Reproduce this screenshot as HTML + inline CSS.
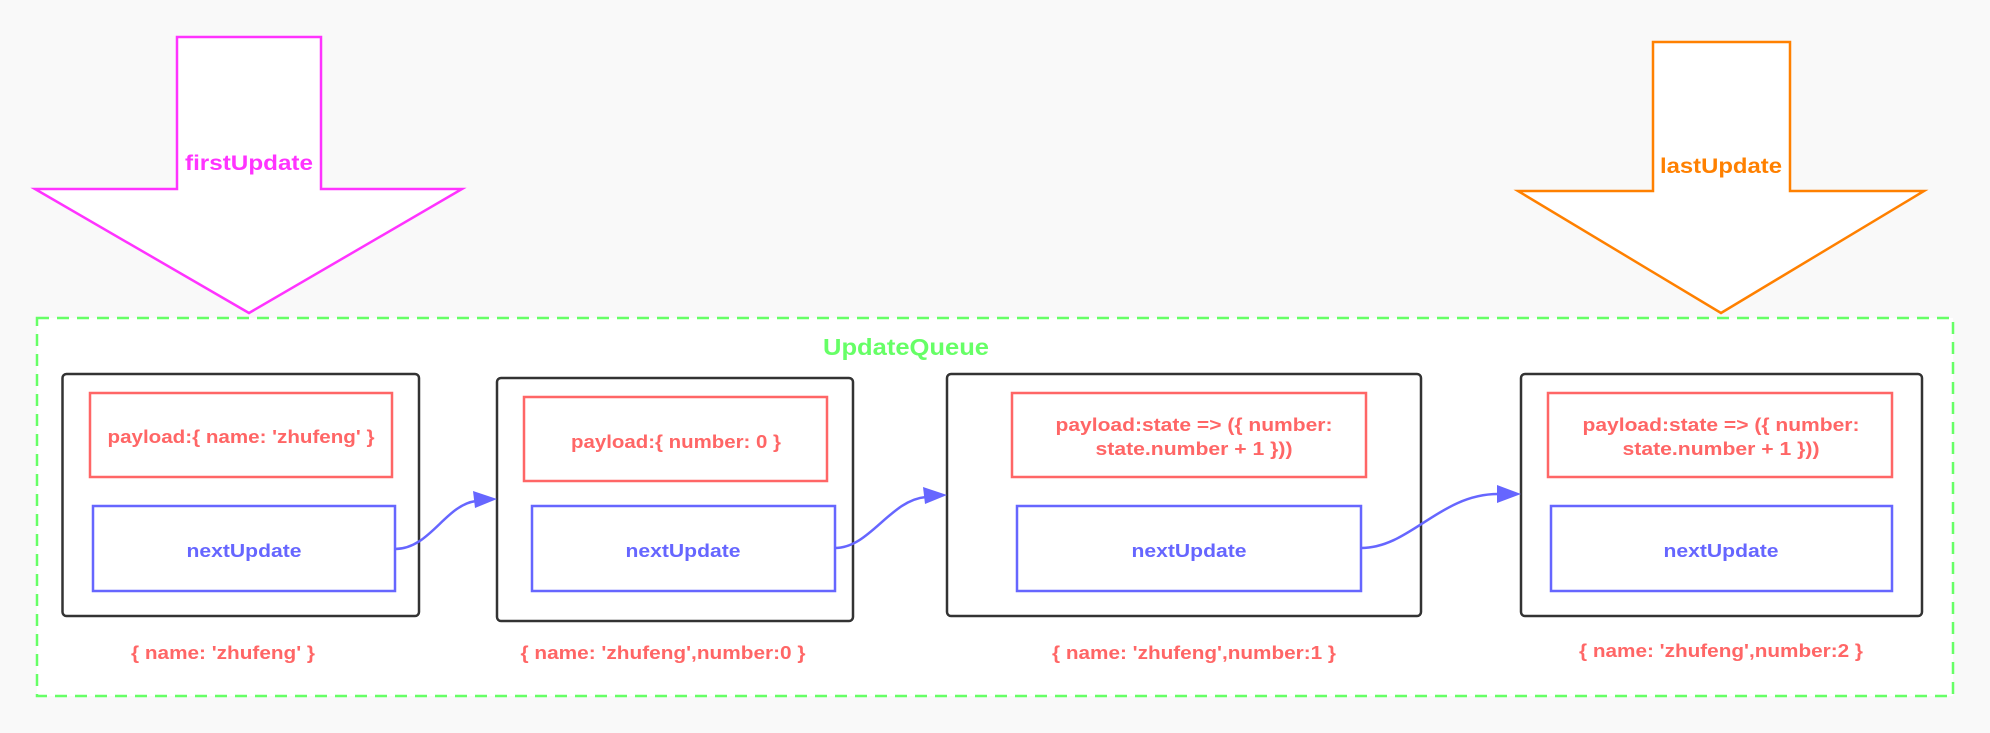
<!DOCTYPE html>
<html><head><meta charset="utf-8"><style>
html,body{margin:0;padding:0;background:#f9f9f9;}
svg{display:block;}
text{font-family:"Liberation Sans","Noto Sans CJK SC",sans-serif;font-weight:bold;}
</style></head><body>
<svg width="1990" height="733" viewBox="0 0 1990 733" xmlns="http://www.w3.org/2000/svg">
<rect width="1990" height="733" fill="#f9f9f9"/>
<!-- pink arrow -->
<polygon points="177,37 321,37 321,189 462,189 249,313 35,189 177,189" fill="#fff" stroke="#ff33ff" stroke-width="2.5"/>
<text x="249" y="170" text-anchor="middle" font-size="21" fill="#ff33ff" textLength="128" lengthAdjust="spacingAndGlyphs">firstUpdate</text>
<!-- orange arrow -->
<polygon points="1653,42 1790,42 1790,191 1924,191 1721,313 1518,191 1653,191" fill="#fff" stroke="#ff8000" stroke-width="2.5"/>
<text x="1721" y="173" text-anchor="middle" font-size="21" fill="#ff8000" textLength="122" lengthAdjust="spacingAndGlyphs">lastUpdate</text>
<!-- dashed queue -->
<rect x="37" y="318" width="1916" height="378" fill="#fff" stroke="#66ff66" stroke-width="2.5" stroke-dasharray="12,8"/>
<text x="906" y="355" text-anchor="middle" font-size="23" fill="#66ff66" textLength="166" lengthAdjust="spacingAndGlyphs">UpdateQueue</text>

<!-- boxes -->
<g fill="#fff" stroke="#333" stroke-width="2.5">
<rect x="62.5" y="374" width="356.5" height="242" rx="4"/>
<rect x="497" y="378" width="356" height="243" rx="4"/>
<rect x="947" y="374" width="474" height="242" rx="4"/>
<rect x="1521" y="374" width="401" height="242" rx="4"/>
</g>
<g fill="#fff" stroke="#ff6666" stroke-width="2.5">
<rect x="90" y="393" width="302" height="84"/>
<rect x="524" y="397" width="303" height="84"/>
<rect x="1012" y="393" width="354" height="84"/>
<rect x="1548" y="393" width="344" height="84"/>
</g>
<g fill="#fff" stroke="#6666ff" stroke-width="2.5">
<rect x="93" y="506" width="302" height="85"/>
<rect x="532" y="506" width="303" height="85"/>
<rect x="1017" y="506" width="344" height="85"/>
<rect x="1551" y="506" width="341" height="85"/>
</g>
<g font-size="18" fill="#ff6666" text-anchor="middle">
<text x="241" y="443" textLength="267" lengthAdjust="spacingAndGlyphs">payload:{ name: 'zhufeng' }</text>
<text x="676" y="448" textLength="210" lengthAdjust="spacingAndGlyphs">payload:{ number: 0 }</text>
<text x="1194" y="431" textLength="277" lengthAdjust="spacingAndGlyphs">payload:state =&gt; ({ number:</text>
<text x="1194" y="455" textLength="197" lengthAdjust="spacingAndGlyphs">state.number + 1 }))</text>
<text x="1721" y="431" textLength="277" lengthAdjust="spacingAndGlyphs">payload:state =&gt; ({ number:</text>
<text x="1721" y="455" textLength="197" lengthAdjust="spacingAndGlyphs">state.number + 1 }))</text>
<text x="223" y="659" textLength="184" lengthAdjust="spacingAndGlyphs">{ name: 'zhufeng' }</text>
<text x="663" y="659" textLength="285" lengthAdjust="spacingAndGlyphs">{ name: 'zhufeng',number:0 }</text>
<text x="1194" y="659" textLength="284" lengthAdjust="spacingAndGlyphs">{ name: 'zhufeng',number:1 }</text>
<text x="1721" y="657" textLength="284" lengthAdjust="spacingAndGlyphs">{ name: 'zhufeng',number:2 }</text>
</g>
<g font-size="18" fill="#6666ff" text-anchor="middle">
<text x="244" y="557" textLength="115" lengthAdjust="spacingAndGlyphs">nextUpdate</text>
<text x="683" y="557" textLength="115" lengthAdjust="spacingAndGlyphs">nextUpdate</text>
<text x="1189" y="557" textLength="115" lengthAdjust="spacingAndGlyphs">nextUpdate</text>
<text x="1721" y="557" textLength="115" lengthAdjust="spacingAndGlyphs">nextUpdate</text>
</g>
<!-- connectors -->
<g fill="none" stroke="#6666ff" stroke-width="2.5">
<path d="M395,549 C430,549 445,505 476,501"/>
<path d="M835,548 C870,548 890,500 926,497"/>
<path d="M1361,548 C1410,548 1440,494 1498,494"/>
</g>
<g fill="#6666ff">
<polygon points="497,499 473,491 475,508"/>
<polygon points="947,495 923,487 925,504"/>
<polygon points="1521,494 1497,485 1497,503"/>
</g>
</svg>
</body></html>
